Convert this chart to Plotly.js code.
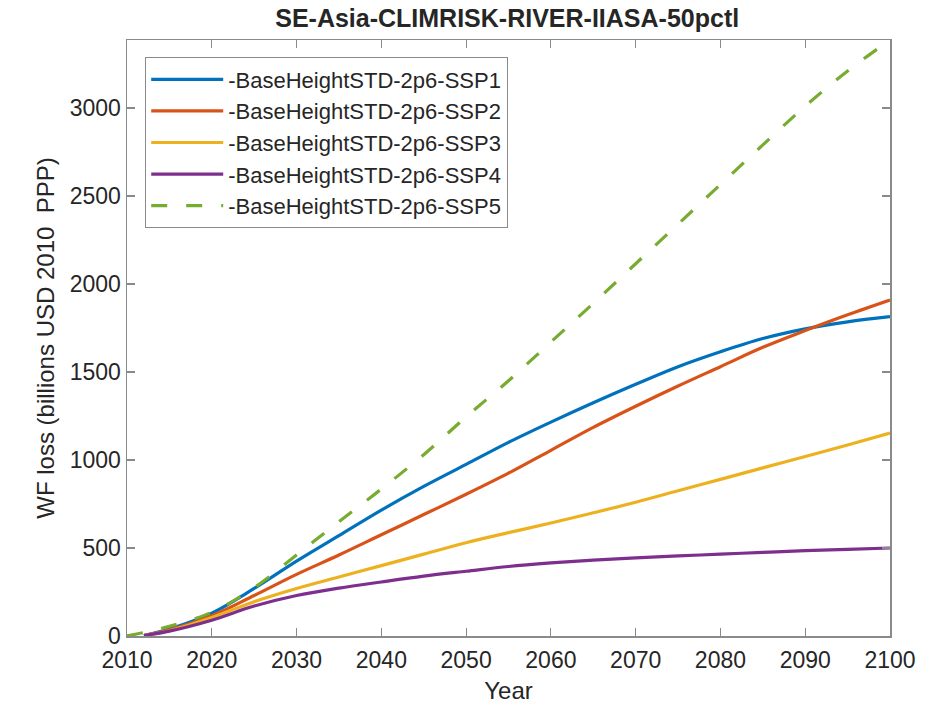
<!DOCTYPE html>
<html>
<head>
<meta charset="utf-8">
<script src="https://cdn.plot.ly/plotly-3.0.1.min.js"></script>
<style>html,body{margin:0;padding:0;background:#fff;}#chart{width:941px;height:711px;}</style>
</head>
<body>
<div id="chart"></div>
<script>
// Data
const years5 = [2010, 2015, 2020, 2025, 2030, 2035, 2040, 2045, 2050, 2055, 2060, 2065, 2070, 2075, 2080, 2085, 2090, 2095, 2100];
const yearsLate = [2012, 2015, 2020, 2025, 2030, 2035, 2040, 2045, 2050, 2055, 2060, 2065, 2070, 2075, 2080, 2085, 2090, 2095, 2100];
const seriesNames = ['-BaseHeightSTD-2p6-SSP1', '-BaseHeightSTD-2p6-SSP2', '-BaseHeightSTD-2p6-SSP3', '-BaseHeightSTD-2p6-SSP4', '-BaseHeightSTD-2p6-SSP5'];
const ssp1 = [3, 40, 130, 270, 425, 570, 715, 850, 975, 1100, 1215, 1325, 1430, 1530, 1615, 1690, 1745, 1785, 1814];
const ssp2 = [3, 35, 115, 230, 350, 460, 575, 690, 805, 925, 1055, 1185, 1305, 1420, 1530, 1640, 1735, 1825, 1909];
const ssp3 = [3, 30, 105, 195, 270, 335, 400, 465, 530, 587, 642, 700, 760, 825, 890, 955, 1020, 1085, 1153];
const ssp4 = [3, 28, 90, 170, 230, 272, 307, 340, 368, 395, 415, 431, 444, 455, 465, 475, 485, 492, 500];
const ssp5 = [0, 55, 135, 275, 460, 650, 835, 1030, 1245, 1450, 1670, 1890, 2115, 2340, 2565, 2790, 3010, 3210, 3386];

const colors = ['#0072BD', '#D95319', '#EDB120', '#7E2F8E', '#77AC30'];
const FONT = 'Liberation Sans, Arial, Helvetica, sans-serif';

const ys = [ssp1, ssp2, ssp3, ssp4, ssp5];
const traces = ys.map((y, i) => ({
  x: i === 4 ? years5 : yearsLate,
  y: y,
  name: seriesNames[i],
  type: 'scatter',
  mode: 'lines',
  line: {color: colors[i], width: 3.2, shape: 'spline', smoothing: 1, dash: i === 4 ? '16px,19px' : 'solid'}
}));

const axisCommon = {
  showgrid: false, zeroline: false,
  showline: true, linecolor: '#8a8a8a', linewidth: 1.5, mirror: 'ticks',
  ticks: 'inside', ticklen: 8, tickcolor: '#8a8a8a', tickwidth: 1.2,
  tickfont: {family: FONT, size: 23, color: '#262626'}
};

const layout = {
  width: 941, height: 711,
  paper_bgcolor: '#ffffff', plot_bgcolor: '#ffffff',
  margin: {l: 127, r: 51, t: 40, b: 75},
  title: {text: '<b>SE-Asia-CLIMRISK-RIVER-IIASA-50pctl</b>', font: {family: FONT, size: 25, color: '#262626'}, x: 0.539, xanchor: 'center', y: 0.975, yanchor: 'middle'},
  xaxis: Object.assign({}, axisCommon, {
    range: [2010, 2100], tick0: 2010, dtick: 10, ticklabelstandoff: 3,
    title: {text: 'Year', font: {family: FONT, size: 24, color: '#262626'}, standoff: 10}
  }),
  yaxis: Object.assign({}, axisCommon, {
    range: [0, 3386], tick0: 0, dtick: 500,
    title: {text: 'WF loss (billions USD 2010  PPP)', font: {family: FONT, size: 24, color: '#262626'}, standoff: 8}
  }),
  showlegend: true,
  legend: {
    x: 0.0236, y: 0.971, xanchor: 'left', yanchor: 'top',
    bgcolor: '#ffffff', bordercolor: '#8a8a8a', borderwidth: 1.2,
    font: {family: FONT, size: 22, color: '#262626'},
    itemwidth: 72,
    traceorder: 'normal'
  }
};

Plotly.newPlot('chart', traces, layout, {displayModeBar: false, staticPlot: true});
</script>
</body>
</html>
